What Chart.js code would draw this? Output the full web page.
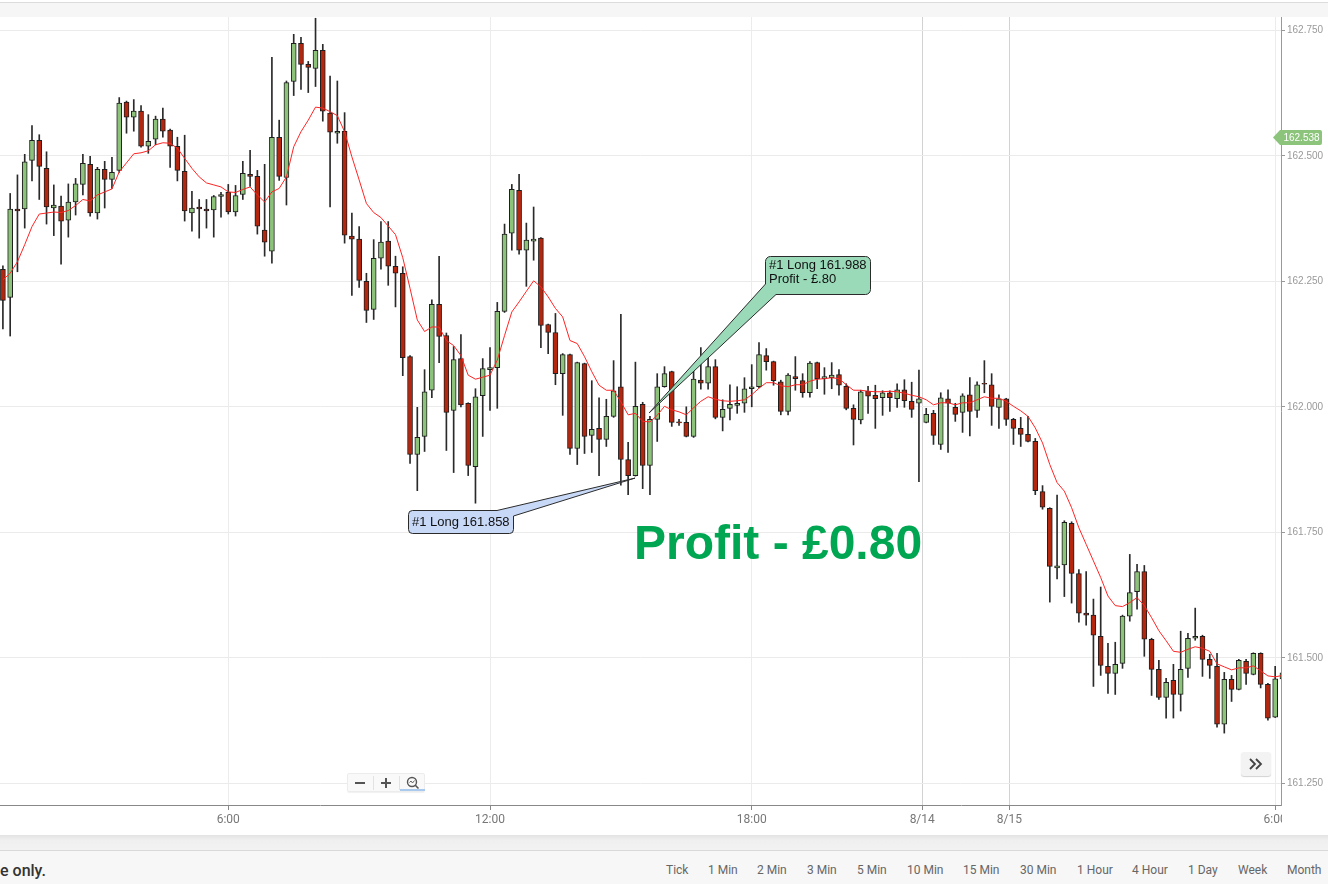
<!DOCTYPE html>
<html><head><meta charset="utf-8">
<script src="https://cdn.jsdelivr.net/npm/chart.js@4.4.1/dist/chart.umd.min.js"></script>
<style>
html,body{margin:0;padding:0;background:#fff;width:1328px;height:884px;overflow:hidden;font-family:Roboto,"Liberation Sans",Arial,sans-serif;}
#cv{position:absolute;left:0;top:0;}
#hdr{position:absolute;left:0;top:2px;width:1328px;height:15px;background:#f6f6f6;border-top:1px solid #dcdcdc;box-sizing:border-box;}
#shadow{position:absolute;left:0;top:835px;width:1328px;height:15px;background:linear-gradient(to bottom,#e3e3e3 0px,#efefef 5px,#f2f2f2 15px);}
#footer{position:absolute;left:0;top:850px;width:1328px;height:34px;background:#f7f7f7;border-top:1px solid #d9d9d9;box-sizing:border-box;}
#disc{position:absolute;left:0;top:861px;font-size:16px;font-weight:500;color:#333;line-height:20px;white-space:nowrap;}
.tf{position:absolute;top:863px;font-size:12px;color:#666;line-height:15px;white-space:nowrap;}
#zoomctl{position:absolute;left:347px;top:773px;width:78px;height:19px;background:#f9f9f9;border:1px solid #ececec;box-sizing:border-box;border-radius:2px;box-shadow:0 1px 1px rgba(0,0,0,0.06);}
#zoomctl .sep{position:absolute;top:2px;width:1px;height:14px;background:#e2e2e2;}
#zoomctl .ul{position:absolute;left:52px;top:15px;width:25px;height:2px;background:#a9c9ef;}
#nav{position:absolute;left:1241px;top:752px;width:30px;height:24px;background:#f3f3f3;border-radius:3px;box-shadow:0 1px 1px rgba(0,0,0,0.18);}
</style></head>
<body>
<canvas id="cv" width="1328" height="835"></canvas>
<div id="hdr"></div>
<div id="zoomctl">
  <svg width="78" height="19" style="position:absolute;left:0;top:0">
    <rect x="7" y="8" width="10" height="2" fill="#555"/>
    <rect x="33" y="8" width="10" height="2" fill="#555"/>
    <rect x="37" y="4" width="2" height="10" fill="#555"/>
    <circle cx="64" cy="8" r="4.5" fill="none" stroke="#555" stroke-width="1.4"/>
    <line x1="67.3" y1="11.3" x2="70.5" y2="14.5" stroke="#555" stroke-width="1.6"/>
    <path d="M61.5 8.5 L63 7 L64.5 9 L66.5 6.5" fill="none" stroke="#555" stroke-width="0.9"/>
  </svg>
  <div class="sep" style="left:25px"></div>
  <div class="sep" style="left:51px"></div>
  <div class="ul"></div>
</div>
<div id="nav">
  <svg width="30" height="24" style="position:absolute;left:0;top:0">
    <path d="M9 7 L14 12 L9 17" fill="none" stroke="#444" stroke-width="1.8"/>
    <path d="M15 7 L20 12 L15 17" fill="none" stroke="#444" stroke-width="1.8"/>
  </svg>
</div>
<div id="shadow"></div>
<div id="footer"></div>
<div id="disc">e only.</div>
<div class="tf" style="left:666px">Tick</div>
<div class="tf" style="left:708px">1 Min</div>
<div class="tf" style="left:757px">2 Min</div>
<div class="tf" style="left:807px">3 Min</div>
<div class="tf" style="left:857px">5 Min</div>
<div class="tf" style="left:907px">10 Min</div>
<div class="tf" style="left:963px">15 Min</div>
<div class="tf" style="left:1020px">30 Min</div>
<div class="tf" style="left:1077px">1 Hour</div>
<div class="tf" style="left:1132px">4 Hour</div>
<div class="tf" style="left:1188px">1 Day</div>
<div class="tf" style="left:1238px">Week</div>
<div class="tf" style="left:1287px">Month</div>
<script>
// ---------- DATA (10 minute candles) ----------
const openP = [
162.274,162.218,162.394,162.394,162.491,162.531,162.475,162.396,162.400,162.372,
162.408,162.443,162.483,162.386,162.473,162.453,162.471,162.607,162.577,162.589,
162.519,162.533,162.573,162.551,162.519,162.469,162.386,162.398,162.394,162.392,
162.419,162.427,162.388,162.423,162.463,162.459,162.352,162.310,162.537,162.457,
162.648,162.724,162.682,162.674,162.710,162.585,162.545,162.549,162.340,162.334,
162.250,162.194,162.296,162.330,162.280,162.266,162.100,161.905,161.941,162.033,
162.204,162.142,161.993,162.096,162.007,161.881,162.022,162.074,162.078,162.190,
162.346,162.431,162.312,162.330,162.336,162.164,162.148,162.066,162.104,161.917,
162.086,161.943,161.957,161.935,161.981,162.040,161.895,161.863,162.005,161.883,
161.975,162.040,162.070,161.970,161.969,161.941,162.053,162.047,162.080,161.979,
161.997,162.003,162.007,162.036,162.040,162.102,162.090,162.050,161.991,162.060,
162.052,162.028,162.088,162.056,162.058,162.064,162.041,161.997,161.974,162.031,
162.023,162.018,162.028,162.016,162.034,162.011,162.007,161.969,161.987,161.925,
162.016,161.999,161.989,162.024,161.993,162.047,162.044,161.999,162.016,161.975,
161.957,161.945,161.931,161.831,161.798,161.679,161.685,161.768,161.668,161.589,
161.585,161.543,161.483,161.469,161.489,161.583,161.632,161.672,161.537,161.477,
161.421,161.455,161.427,161.479,161.539,161.543,161.497,161.483,161.368,161.457,
161.437,161.493,161.467,161.509,161.447,161.382,161.458];
const highP = [
162.281,162.425,162.462,162.503,162.560,162.542,162.508,162.442,162.420,162.444,
162.455,162.503,162.499,162.477,162.489,162.497,162.616,162.609,162.612,162.600,
162.582,162.579,162.595,162.553,162.537,162.541,162.429,162.413,162.413,162.421,
162.427,162.443,162.441,162.489,162.511,162.471,162.483,162.696,162.571,162.649,
162.742,162.736,162.688,162.774,162.722,162.659,162.649,162.586,162.386,162.359,
162.266,162.333,162.369,162.369,162.300,162.279,162.102,161.999,162.074,162.213,
162.300,162.147,162.120,162.144,162.008,162.036,162.096,162.118,162.208,162.364,
162.443,162.463,162.366,162.398,162.337,162.165,162.186,162.106,162.105,162.089,
162.087,162.052,162.018,162.015,162.092,162.184,161.929,162.089,162.009,161.981,
162.066,162.080,162.071,161.975,162.000,162.077,162.118,162.100,162.094,162.014,
162.044,162.040,162.058,162.084,162.128,162.116,162.091,162.053,162.066,162.100,
162.066,162.090,162.089,162.078,162.088,162.074,162.046,162.004,162.033,162.041,
162.043,162.032,162.032,162.046,162.054,162.049,162.073,161.997,161.993,162.028,
162.034,162.007,162.026,162.058,162.050,162.092,162.066,162.024,162.017,161.977,
161.979,161.981,161.937,161.843,161.799,161.824,161.773,161.771,161.676,161.672,
161.617,161.641,161.529,161.531,161.585,161.706,161.686,161.684,161.539,161.495,
161.459,161.487,161.553,161.549,161.599,161.545,161.507,161.509,161.471,161.465,
161.497,161.497,161.510,161.510,161.449,161.483,161.486];
const lowP = [
162.155,162.141,162.269,162.356,162.450,162.413,162.364,162.341,162.284,162.338,
162.382,162.422,162.380,162.374,162.396,162.435,162.467,162.545,162.549,162.517,
162.505,162.522,162.537,162.477,162.450,162.370,162.350,162.336,162.356,162.338,
162.378,162.384,162.380,162.413,162.439,162.344,162.300,162.286,162.451,162.402,
162.620,162.632,162.626,162.638,162.569,162.398,162.525,162.326,162.222,162.238,
162.168,162.174,162.274,162.242,162.199,162.062,161.887,161.833,161.911,162.018,
162.088,161.913,161.869,162.000,161.863,161.808,161.941,161.993,161.997,162.188,
162.312,162.304,162.240,162.292,162.118,162.106,162.044,161.983,161.905,161.885,
161.907,161.909,161.863,161.921,161.979,161.844,161.825,161.862,161.837,161.825,
161.931,162.039,161.961,161.963,161.940,161.939,162.035,162.035,161.976,161.952,
161.974,161.987,161.989,162.000,162.038,162.073,162.043,161.984,161.984,162.033,
162.019,162.019,162.036,162.025,162.036,162.023,161.994,161.924,161.966,161.987,
161.957,161.983,161.991,161.999,161.999,161.979,161.851,161.968,161.925,161.915,
161.909,161.971,161.949,161.942,161.979,162.028,161.963,161.957,161.963,161.925,
161.921,161.930,161.825,161.796,161.611,161.657,161.622,161.609,161.571,161.565,
161.443,161.465,161.429,161.427,161.479,161.573,161.597,161.503,161.425,161.417,
161.380,161.380,161.394,161.461,161.535,161.463,161.459,161.362,161.350,161.413,
161.436,161.447,161.466,161.440,161.376,161.381,161.452];
const closeP = [
162.212,162.394,162.390,162.488,162.531,162.479,162.398,162.402,162.370,162.408,
162.444,162.485,162.386,162.473,162.453,162.467,162.605,162.577,162.589,162.519,
162.529,162.573,162.549,162.519,162.471,162.390,162.396,162.394,162.390,162.419,
162.423,162.388,162.421,162.465,162.459,162.360,162.328,162.537,162.459,162.646,
162.724,162.682,162.676,162.710,162.589,162.547,162.549,162.342,162.334,162.252,
162.192,162.296,162.328,162.280,162.266,162.098,161.905,161.939,162.030,162.204,
162.140,161.989,162.094,162.004,161.883,162.020,162.076,162.078,162.190,162.344,
162.433,162.312,162.332,162.334,162.162,162.148,162.066,162.104,161.917,162.088,
161.941,161.955,161.935,161.981,162.032,161.895,161.863,162.001,161.883,161.975,
162.040,162.066,161.969,161.968,161.941,162.055,162.047,162.080,161.979,161.995,
162.005,162.007,162.036,162.040,162.104,162.090,162.052,161.991,162.063,162.056,
162.028,162.087,162.056,162.060,162.063,162.043,161.997,161.975,162.030,162.021,
162.016,162.028,162.018,162.034,162.012,161.995,162.016,161.985,161.943,162.018,
162.007,161.985,162.022,161.991,162.044,162.045,162.001,162.016,161.975,161.957,
161.945,161.931,161.833,161.800,161.682,161.683,161.770,161.668,161.589,161.585,
161.545,161.485,161.469,161.487,161.583,161.630,161.672,161.537,161.477,161.421,
161.451,161.427,161.477,161.539,161.543,161.497,161.485,161.368,161.457,161.437,
161.495,161.469,161.509,161.447,161.380,161.458,161.470];
const maLine = [
162.253,162.266,162.289,162.323,162.359,162.384,162.386,162.388,162.387,162.391,
162.401,162.413,162.410,162.422,162.428,162.434,162.468,162.486,162.504,162.506,
162.510,162.522,162.526,162.525,162.515,162.495,162.475,162.458,162.446,162.442,
162.438,162.428,162.427,162.433,162.438,162.422,162.408,162.428,162.435,162.458,
162.518,162.548,162.571,162.597,162.595,162.588,162.580,162.548,162.498,162.452,
162.405,162.387,162.377,162.360,162.343,162.297,162.236,162.173,162.150,162.159,
162.159,162.132,162.122,162.102,162.063,162.055,162.059,162.063,162.093,162.142,
162.189,162.209,162.230,162.251,162.239,162.219,162.196,162.179,162.132,162.126,
162.100,162.070,162.043,162.033,162.033,162.010,161.984,161.987,161.971,161.970,
161.983,162.001,161.994,161.990,161.984,161.998,162.011,162.020,162.015,162.012,
162.011,162.012,162.014,162.024,162.037,162.048,162.048,162.042,162.040,162.044,
162.044,162.051,162.055,162.056,162.058,162.056,162.044,162.033,162.033,162.031,
162.030,162.030,162.031,162.030,162.027,162.023,162.020,162.014,162.004,162.008,
162.008,162.004,162.008,162.008,162.014,162.020,162.017,162.017,162.011,162.001,
161.992,161.981,161.958,161.928,161.885,161.849,161.832,161.799,161.759,161.726,
161.693,161.660,161.623,161.604,161.602,161.610,161.620,161.604,161.580,161.554,
161.534,161.513,161.511,161.517,161.522,161.519,161.513,161.488,161.482,161.476,
161.480,161.480,161.484,161.474,161.464,161.462,161.465];
const xTickPos = [31, 67, 103, 126.45, 138.45, 175];
const xTickLabels = ['6:00', '12:00', '18:00', '8/14', '8/15', '6:00'];
const yTickValues = [161.25, 161.5, 161.75, 162.0, 162.25, 162.5, 162.75];
const currentPrice = 162.538;
const entryTrade = { index: 86.95, price: 161.858, text: '#1 Long 161.858' };
const exitTrade = { index: 88.9, price: 161.988, text: '#1 Long 161.988', profit: 'Profit - £.80' };
const profitHeadline = 'Profit - £0.80';

// ---------- STYLE ----------
const UP = '#8cc27a', DOWN = '#b4260d', EDGE = '#1e1e1e', WICK = '#2a2a2a';
const isUp = closeP.map((c, i) => c >= openP[i]);

function roundedCallout(ctx, pts) {
  ctx.beginPath();
  ctx.moveTo(pts[0][0], pts[0][1]);
  for (let k = 1; k < pts.length; k++) {
    const p = pts[k];
    if (p.length === 5) ctx.arcTo(p[0], p[1], p[2], p[3], p[4]);
    else ctx.lineTo(p[0], p[1]);
  }
  ctx.closePath();
}

const annotations = {
  id: 'annotations',
  afterDatasetsDraw(chart) {
    const { ctx, scales: { x, y } } = chart;
    ctx.save();
    ctx.lineWidth = 1;
    ctx.strokeStyle = '#2b2b2b';
    // blue entry callout
    const bx = x.getPixelForValue(entryTrade.index), by = y.getPixelForValue(entryTrade.price);
    let L = 408.5, T = 510.5, R = 513.5, B = 533.5, r = 4;
    roundedCallout(ctx, [[L + r, T], [497, T], [bx, by], [R, 516], [R, B - r], [R, B, R - r, B, r],
      [L + r, B], [L, B, L, B - r, r], [L, T + r], [L, T, L + r, T, r]]);
    ctx.fillStyle = '#c8d8f7'; ctx.fill(); ctx.stroke();
    ctx.fillStyle = '#111';
    ctx.font = '13px "Liberation Sans", Arial, sans-serif';
    ctx.textBaseline = 'middle';
    ctx.fillText(entryTrade.text, 412, 522.5);
    // green exit callout
    const gx = x.getPixelForValue(exitTrade.index), gy = y.getPixelForValue(exitTrade.price);
    L = 765.5; T = 256.5; R = 870.5; B = 294.5; r = 5;
    roundedCallout(ctx, [[L + r, T], [R - r, T], [R, T, R, T + r, r], [R, B - r], [R, B, R - r, B, r],
      [776, B], [gx, gy], [L, 284], [L, T + r], [L, T, L + r, T, r]]);
    ctx.fillStyle = '#9bdab9'; ctx.fill(); ctx.stroke();
    ctx.fillStyle = '#111';
    ctx.fillText(exitTrade.text, 769, 265.5);
    ctx.fillText(exitTrade.profit, 769, 279);
    // headline
    ctx.font = 'bold 48px "Liberation Sans", Arial, sans-serif';
    ctx.textBaseline = 'alphabetic';
    ctx.fillStyle = '#00a651';
    ctx.fillText(profitHeadline, 634, 559);
    ctx.restore();
  },
  afterDraw(chart) {
    const { ctx, chartArea, scales: { y } } = chart;
    ctx.save();
    // clip x labels beyond the price axis
    ctx.fillStyle = '#fff';
    ctx.fillRect(chartArea.right + 1, chartArea.bottom + 1, 60, 40);
    // current price tag
    const py = Math.round(y.getPixelForValue(currentPrice)) + 0.5;
    ctx.beginPath();
    ctx.moveTo(1273, py);
    ctx.lineTo(1280, py - 7.5);
    ctx.lineTo(1320, py - 7.5);
    ctx.arcTo(1322, py - 7.5, 1322, py - 5.5, 2);
    ctx.lineTo(1322, py + 5.5);
    ctx.arcTo(1322, py + 7.5, 1320, py + 7.5, 2);
    ctx.lineTo(1280, py + 7.5);
    ctx.closePath();
    ctx.fillStyle = '#8cc47c';
    ctx.fill();
    ctx.fillStyle = '#fff';
    ctx.font = '10px "Liberation Sans", Arial, sans-serif';
    ctx.textAlign = 'center';
    ctx.textBaseline = 'middle';
    ctx.fillText(currentPrice.toFixed(3), 1301.5, py + 0.5);
    ctx.restore();
  }
};

new Chart(document.getElementById('cv'), {
  type: 'bar',
  data: {
    datasets: [
      { type: 'line', label: 'MA', data: maLine.map((v, i) => ({ x: i, y: v })),
        borderColor: '#ff2424', borderWidth: 1, pointRadius: 0, tension: 0, clip: 0, order: 0 },
      { type: 'bar', label: 'Body', data: openP.map((o, i) => ({ x: i, y: [o, closeP[i]] })),
        backgroundColor: isUp.map(u => u ? UP : DOWN), borderColor: EDGE, borderWidth: 1,
        borderSkipped: false, barThickness: 5, grouped: false, clip: 0, order: 1 },
      { type: 'bar', label: 'Wick', data: lowP.map((l, i) => ({ x: i, y: [l, highP[i]] })),
        backgroundColor: WICK, borderWidth: 0, barThickness: 1, grouped: false, clip: 0, order: 2 }
    ]
  },
  options: {
    responsive: false,
    animation: false,
    devicePixelRatio: 1,
    layout: { padding: { top: 17, left: 0, right: 0, bottom: 0 } },
    plugins: { legend: { display: false }, tooltip: { enabled: false } },
    scales: {
      x: {
        type: 'linear', min: -0.4, max: 175.8, bounds: 'data', offset: false,
        afterBuildTicks: s => { s.ticks = xTickPos.map(v => ({ value: v })); },
        afterFit: s => { s.height = 30; },
        ticks: { autoSkip: false, maxRotation: 0, padding: 3, color: '#777',
          font: { family: 'Roboto', size: 12 },
          callback: (v, idx) => xTickLabels[idx] },
        grid: { offset: false,
          color: c => (xTickLabels[c.index] || '').includes('/') ? '#d2d2d2' : '#ececec',
          tickColor: '#888', tickLength: 5, lineWidth: 1 },
        border: { color: '#888' }
      },
      y: {
        type: 'linear', position: 'right', min: 161.2068, max: 162.7765, bounds: 'data',
        afterBuildTicks: s => { s.ticks = yTickValues.map(v => ({ value: v })); },
        afterFit: s => { s.width = 47; },
        ticks: { padding: 2, color: '#999', font: { family: 'Liberation Sans', size: 10 },
          callback: v => Number(v).toFixed(3) },
        grid: { color: '#ebebeb', tickColor: '#999', tickLength: 4 },
        border: { color: '#999' }
      }
    }
  },
  plugins: [annotations]
});
</script>
</body></html>
